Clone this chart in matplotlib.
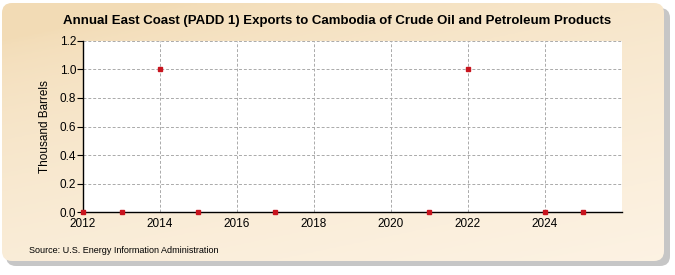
import numpy as np
import matplotlib.pyplot as plt
from matplotlib.patches import FancyBboxPatch

years = [2012, 2013, 2014, 2015, 2017, 2021, 2022, 2024, 2025]
exports = [0, 0, 1, 0, 0, 0, 1, 0, 0]

plt.rcParams["font.family"] = ["Liberation Sans", "DejaVu Sans"]

fig = plt.figure(figsize=(6.75, 2.75), dpi=100)
fig.patch.set_facecolor("white")

# background panel with soft gradient and shadow
bg = fig.add_axes([0, 0, 1, 1], zorder=-10)
bg.set_xlim(0, 675)
bg.set_ylim(275, 0)
bg.axis("off")
shadow = FancyBboxPatch((6, 8), 664, 258, boxstyle="round,pad=0,rounding_size=10",
                        fc="#b8b8b8", ec="none", alpha=0.8)
bg.add_patch(shadow)
panel = FancyBboxPatch((2, 3), 662, 258, boxstyle="round,pad=0,rounding_size=10",
                       fc="none", ec="none")
bg.add_patch(panel)
xx, yy = np.meshgrid(np.linspace(0, 1, 200), np.linspace(0, 1, 100))
t = np.clip(1 - (0.35 * (1 - xx) + 0.65 * (1 - yy)) * 1.1, 0, 1) ** 0.6
c0 = np.array([0.95, 0.86, 0.71])
c1 = np.array([0.99, 0.95, 0.89])
img = c0 + (c1 - c0) * t[..., None]
im = bg.imshow(img, extent=[2, 664, 261, 3], aspect="auto", zorder=1)
im.set_clip_path(panel)

ax = fig.add_axes([0.123, 0.229, 0.798, 0.622])
ax.set_facecolor("white")
ax.plot(years, exports, linestyle="none", marker="s", markersize=3.5,
        color="#c8141e", clip_on=False, zorder=5)

ax.set_xlim(2012, 2026)
ax.set_ylim(0, 1.2)
ax.set_xticks(range(2012, 2025, 2))
ax.set_yticks(np.arange(0, 1.21, 0.2))
ax.set_yticklabels([f"{v:.1f}" for v in np.arange(0, 1.21, 0.2)])
ax.grid(True, color="#aaaaaa", linestyle=(0, (3, 2)), linewidth=0.7)
ax.set_axisbelow(True)
for s in ["top", "right"]:
    ax.spines[s].set_visible(False)
ax.spines["left"].set_linewidth(1.0)
ax.spines["bottom"].set_linewidth(1.0)
ax.tick_params(axis="x", length=0, labelsize=8.5, pad=4)
ax.tick_params(axis="y", length=4, labelsize=8.5, pad=1)
ax.set_ylabel("Thousand Barrels", fontsize=8.5, labelpad=6)

fig.text(0.5, 0.925, "Annual East Coast (PADD 1) Exports to Cambodia of Crude Oil and Petroleum Products",
         ha="center", va="center", fontsize=9.5, fontweight="bold")
fig.text(0.043, 0.09, "Source: U.S. Energy Information Administration",
         ha="left", va="center", fontsize=6.5)

plt.savefig("out.png", dpi=100)
